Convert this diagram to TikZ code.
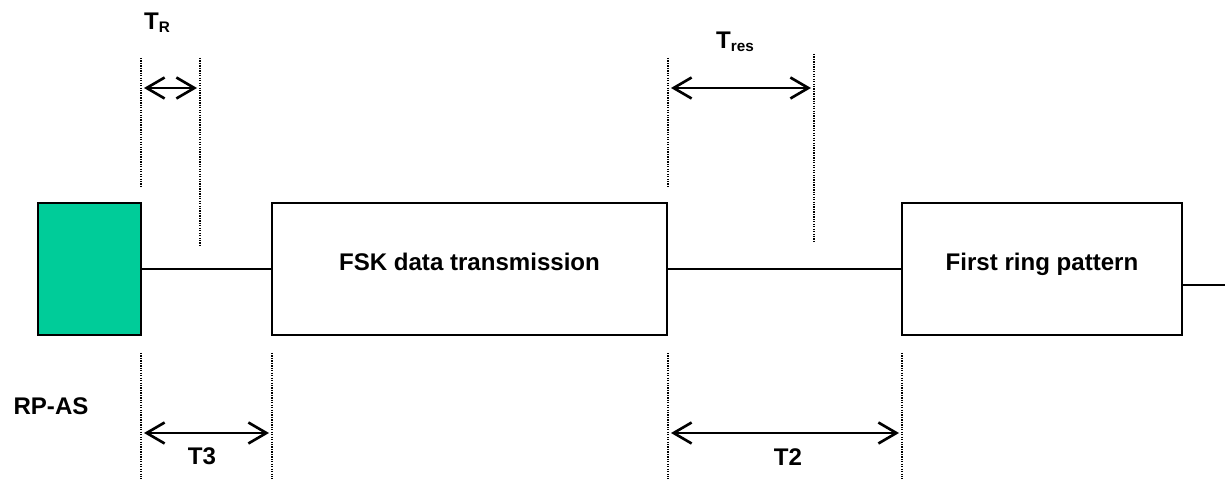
\documentclass[tikz,border=0pt]{standalone}
\usepackage{fontspec}
\setmainfont{Liberation Sans}
\usetikzlibrary{arrows.meta,positioning}
\definecolor{asgreen}{HTML}{00CC99}
\newcommand{\tsub}[1]{\raisebox{-1.7pt}{\fontsize{8.7}{10}\selectfont #1}}

\begin{document}
\begin{tikzpicture}
  [x=0.02cm, y=-0.02cm,
    font=\fontsize{13.7}{16}\selectfont\bfseries,
    block/.style={
      draw=black, line width=1pt,
      minimum height=2.64cm,
      inner sep=0pt, outer sep=0pt,
      text height=0.36cm, text depth=0.28cm
    },
    guide/.style={
      line width=1.1pt,
      dash pattern=on 0.7pt off 0.7pt
    },
    span/.style={
      >={Straight Barb[length=3.6mm, width=4.2mm]},
      <->, line width=1.5pt,
      shorten <=0.06cm, shorten >=0.06cm
    },
    link/.style={line width=0.8pt}
  ]
  \useasboundingbox (0,0) rectangle (1225,479);

  % the three blocks on the line
  \node[block, fill=asgreen, minimum width=2.06cm] (as) at (89.5,269) {};
  \node[block, minimum width=7.9cm] (fsk) at (469.5,269) {FSK data transmission};
  \node[block, minimum width=5.6cm] (ring) at (1042,269) {First ring pattern};

  \coordinate (out) at (1225,285);
  \draw[link] (as.east) -- (fsk.west);
  \draw[link] (fsk.east) -- (ring.west);
  \draw[link] (ring.east |- out) -- (out);

  % timing guides
  \draw[guide] (141,58) -- (141,188);
  \draw[guide] (200,58) -- (200,245);
  \draw[guide] (668,58) -- (668,188);
  \draw[guide] (814,54) -- (814,243);
  \foreach \x in {141,272,668,902}
    \draw[guide] (\x,353) -- (\x,479);

  \coordinate (trl) at (141,88);
  \coordinate (trr) at (200,88);
  \coordinate (tresl) at (668,88);
  \coordinate (tresr) at (814,88);
  \coordinate (t3l) at (141,433);
  \coordinate (t3r) at (272,433);
  \coordinate (t2l) at (668,433);
  \coordinate (t2r) at (902,433);

  \draw[span] (trl) -- (trr);
  \draw[span] (tresl) -- (tresr);
  \draw[span] (t3l) -- (t3r);
  \draw[span] (t2l) -- (t2r);

  % labels
  \node (tr) at (157,23) {T\tsub{R}};
  \node (tres) at (735,42) {T\tsub{res}};
  \node (rpas) at (51,406) {RP-AS};
  \node (t3) at (202,456) {T3};
  \node (t2) at (788,457) {T2};
\end{tikzpicture}
\end{document}
